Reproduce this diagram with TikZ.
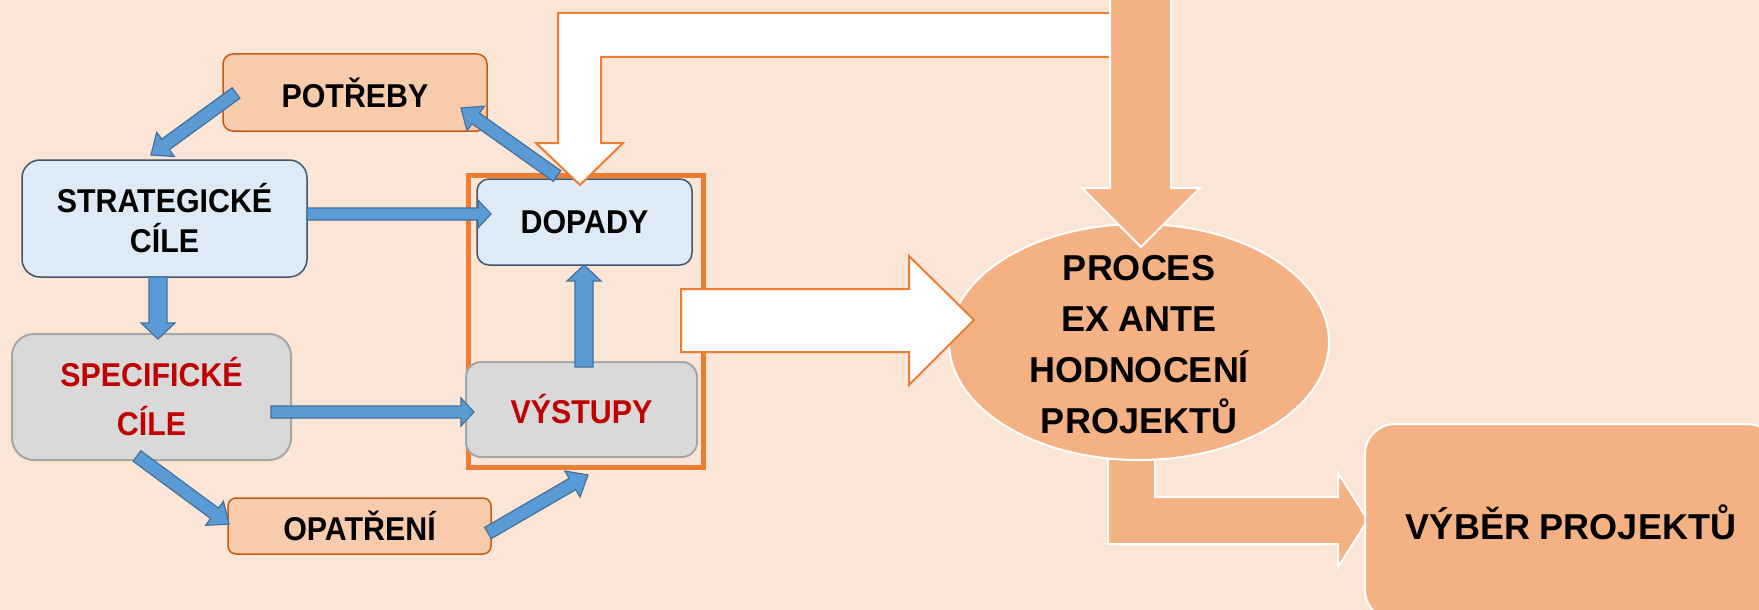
\documentclass[tikz,border=0pt]{standalone}
\usepackage{fontspec}
\setmainfont{Liberation Sans}
\newfontfamily\narrowfont[FakeStretch=0.92]{Liberation Sans}
\usetikzlibrary{shapes.geometric,calc}

\definecolor{bgpeach}{HTML}{FBE5D6}
\definecolor{peachfill}{HTML}{F8CBAD}
\definecolor{peachline}{HTML}{C55A11}
\definecolor{bluefill}{HTML}{DEEBF7}
\definecolor{blueline}{HTML}{44546A}
\definecolor{grayfill}{HTML}{D9D9D9}
\definecolor{grayline}{HTML}{A6A6A6}
\definecolor{framecol}{HTML}{ED7D31}
\definecolor{orangefill}{HTML}{F4B183}
\definecolor{arrowfill}{HTML}{5B9BD5}
\definecolor{arrowline}{HTML}{41719C}
\definecolor{darkred}{HTML}{C00000}

% block arrow: [style]{tail}{tip}{shaft half width}{head half width}{head length}
\newcommand\blockarrow[6][]{%
  \coordinate (ba-h) at ($(#3)!#6!(#2)$);
  \draw[#1] ($(#2)!#4!90:(#3)$) -- ($(ba-h)!#4!90:(#3)$) -- ($(ba-h)!#5!90:(#3)$)
    -- (#3) -- ($(ba-h)!#5!-90:(#3)$) -- ($(ba-h)!#4!-90:(#3)$)
    -- ($(#2)!#4!-90:(#3)$) -- cycle;
}

\begin{document}
\begin{tikzpicture}[x=1pt,y=-1pt,
  txt/.style={font=\narrowfont\bfseries\fontsize{33}{40}\selectfont, align=center},
  bigtxt/.style={font=\bfseries\fontsize{36}{51}\selectfont, align=center},
  peachbox/.style={rectangle, inner sep=0pt, fill=peachfill, draw=peachline, line width=1.5pt, txt},
  bluebox/.style={rectangle, inner sep=0pt, fill=bluefill, draw=blueline, line width=1.5pt, txt},
  graybox/.style={rectangle, inner sep=0pt, fill=grayfill, draw=grayline, line width=2pt, txt, text=darkred},
  bluearrow/.style={fill=arrowfill, draw=arrowline, line width=1.2pt, line join=miter},
  whitearrow/.style={fill=white, draw=framecol, line width=2pt, line join=miter},
  orangearrow/.style={fill=orangefill, draw=white, line width=2pt, line join=miter},
]
\useasboundingbox (0,0) rectangle (1759,610);
\clip (0,0) rectangle (1759,610);
\fill[bgpeach] (0,0) rectangle (1759,610);

% outlined frame around impacts and outputs
\node[draw=framecol, line width=5pt, minimum width=235pt, minimum height=292pt, inner sep=0pt] (frame) at (585.5,321) {};

% boxes of the planning chain
\node[peachbox, rounded corners=10pt, minimum width=264pt, minimum height=77pt] (pot) at (355,92.5) {POTŘEBY};
\node[bluebox, rounded corners=18pt, minimum width=285pt, minimum height=117pt] (strat) at (164.5,218.5) {STRATEGICKÉ\\CÍLE};
\node[graybox, rounded corners=22pt, minimum width=279pt, minimum height=126pt, font=\narrowfont\bfseries\fontsize{33}{49}\selectfont] (spec) at (151.5,397) {SPECIFICKÉ\\CÍLE};
\node[peachbox, rounded corners=8pt, minimum width=263pt, minimum height=56pt] (opat) at (359.5,526) {OPATŘENÍ};
\node[bluebox, rounded corners=12pt, minimum width=215pt, minimum height=86pt] (dop) at (584.5,222) {DOPADY};
\node[graybox, rounded corners=15pt, minimum width=231pt, minimum height=95pt] (vyst) at (581.5,409.5) {VÝSTUPY};

% arrow end points
\coordinate (a1s) at (236,93);   \coordinate (a1e) at (151,155);
\coordinate (a2s) at (557,176);  \coordinate (a2e) at (461,108);
\coordinate (a3s) at (307,214);  \coordinate (a3e) at (491,214);
\coordinate (a4s) at (158,277);  \coordinate (a4e) at (158,339);
\coordinate (a5s) at (271,412);  \coordinate (a5e) at (474,412);
\coordinate (a6s) at (137,456);  \coordinate (a6e) at (229,524);
\coordinate (a7s) at (488,533);  \coordinate (a7e) at (588,475);
\coordinate (a8s) at (584,367);  \coordinate (a8e) at (584,265);

\blockarrow[bluearrow]{a1s}{a1e}{6.5pt}{15pt}{18pt}
\blockarrow[bluearrow]{a2s}{a2e}{6.5pt}{15pt}{18pt}
\blockarrow[bluearrow]{a3s}{a3e}{6pt}{14pt}{13pt}
\blockarrow[bluearrow]{a4s}{a4e}{9pt}{17pt}{16pt}
\blockarrow[bluearrow]{a5s}{a5e}{6pt}{14pt}{13pt}
\blockarrow[bluearrow]{a6s}{a6e}{6.5pt}{15pt}{18pt}
\blockarrow[bluearrow]{a7s}{a7e}{6.5pt}{15pt}{18pt}
\blockarrow[bluearrow]{a8s}{a8e}{9pt}{17pt}{16pt}

% feedback arrow from the top down to the impacts
\draw[whitearrow] (1135,13) -- (558,13) -- (558,143) -- (536,143) -- (580,185)
  -- (623,143) -- (601,143) -- (601,57) -- (1135,57);

% bent arrow from the evaluation to the selection
\draw[orangearrow] (1108,420) -- (1108,544) -- (1338,544) -- (1338,567) -- (1368,520)
  -- (1338,473) -- (1338,497) -- (1155,497) -- (1155,420) -- cycle;

% evaluation process
\node[ellipse, fill=orangefill, draw=white, line width=2pt, minimum width=380pt, minimum height=236pt, inner sep=0pt] (proc) at (1139,342) {};
\node[bigtxt] (proctext) at (1139,345) {PROCES\\EX ANTE\\HODNOCENÍ\\PROJEKTŮ};

% project selection
\node[rectangle, rounded corners=30pt, fill=orangefill, draw=white, line width=2pt, minimum width=412pt, minimum height=196pt, inner sep=0pt, bigtxt] (vyb) at (1571,522) {VÝBĚR PROJEKTŮ};

% input arrow from the top
\draw[orangearrow] (1110,-10) -- (1110,188) -- (1082,188) -- (1141,247) -- (1200,188)
  -- (1171,188) -- (1171,-10);

% arrow from the framed block into the evaluation
\draw[whitearrow] (681,289) -- (909,289) -- (909,256) -- (974,320) -- (909,385)
  -- (909,352) -- (681,352) -- cycle;
\end{tikzpicture}
\end{document}
